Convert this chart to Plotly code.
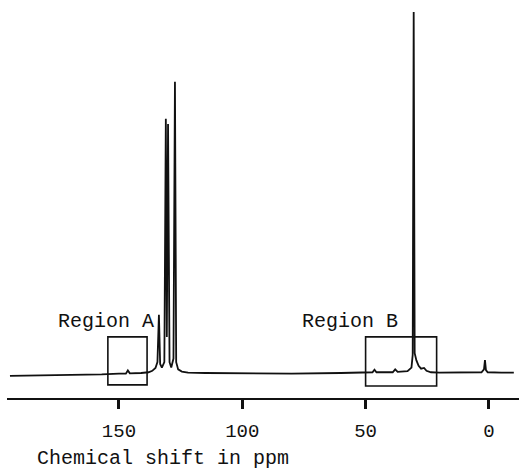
import plotly.graph_objects as go

# Spectrum trace (ppm, relative intensity; tallest peak = 100)
shift_ppm = [194.2, 180, 165, 157, 150, 147.2, 146.4, 145.6, 141, 138, 136.5, 135.2, 134.4,
             133.8, 133.3, 132.6, 131.6, 131.0, 130.6, 130.1, 129.5, 128.8, 127.9, 127.3,
             126.8, 126.0, 124.5, 122, 115, 100, 80, 60, 52, 47.2, 46.4, 45.6, 39, 38.0,
             37.0, 33, 31.4, 30.9, 30.5, 30.1, 29.4, 28.5, 27.5, 26.3, 25.3, 23.5, 20, 10,
             3, 2.0, 1.6, 1.2, 0.5, -5, -10.1]
intensity = [-0.8, -0.7, -0.5, -0.4, -0.2, -0.2, 0.7, -0.1, 0.0, 0.2, 0.6, 1.4, 3.0,
             16.1, 2.5, 1.5, 3.0, 70.4, 10.0, 69.0, 3.0, 1.5, 4.0, 80.7,
             3.0, 1.0, 0.4, 0.1, 0.0, -0.1, -0.2, 0.0, 0.2, 0.2, 0.9, 0.2, 0.2, 1.0,
             0.3, 0.5, 1.5, 5.0, 100.0, 5.5, 3.5, 2.0, 1.2, 1.4, 0.6, 0.2, 0.1, 0.1,
             0.2, 1.0, 3.6, 0.8, 0.2, 0.1, 0.1]

tick_values = [150, 100, 50, 0]
tick_labels = ["150", "100", "50", "0"]

region_names = ["Region A", "Region B"]
region_x0 = [154.5, 50.0]
region_x1 = [138.6, 21.2]
region_y0 = [-3.3, -3.6]
region_y1 = [10.0, 10.0]
label_x = [155.1, 56.3]
label_y = [14.4, 14.4]

FONT = "Liberation Mono, Courier New, monospace"

fig = go.Figure()
fig.add_trace(go.Scatter(x=shift_ppm, y=intensity, mode="lines",
                         line=dict(color="#111111", width=1.8), showlegend=False,
                         hoverinfo="skip"))

for name, x0, x1, y0, y1, lx, ly in zip(region_names, region_x0, region_x1, region_y0,
                                         region_y1, label_x, label_y):
    fig.add_shape(type="rect", xref="x", yref="y", x0=x0, x1=x1, y0=y0, y1=y1,
                  line=dict(color="#111111", width=1.6))
    fig.add_annotation(x=lx, y=ly, xref="x", yref="y", text=name, showarrow=False,
                       font=dict(family=FONT, size=20, color="#111111"),
                       xanchor="center", yanchor="middle")

fig.add_annotation(x=0.0547, y=-0.153, xref="paper", yref="paper",
                   text="Chemical shift in ppm", showarrow=False,
                   xanchor="left", yanchor="middle",
                   font=dict(family=FONT, size=20, color="#111111"))

fig.update_layout(
    width=519, height=471,
    margin=dict(l=7, r=0, t=5, b=73),
    paper_bgcolor="white", plot_bgcolor="white",
    xaxis=dict(range=[195.4, -12.2], tickvals=tick_values, ticktext=tick_labels,
               showgrid=False, zeroline=False, showline=True, linecolor="#111111",
               linewidth=2, ticks="outside", ticklen=9, tickwidth=2.5,
               tickcolor="#111111", ticklabelstandoff=5,
               tickfont=dict(family=FONT, size=19, color="#111111")),
    yaxis=dict(range=[-6.93, 101.94], visible=False, showgrid=False, zeroline=False),
)

fig.write_html("out.html", config={"displayModeBar": False},
               post_script="document.body.style.margin='0';document.body.style.overflow='hidden';")
